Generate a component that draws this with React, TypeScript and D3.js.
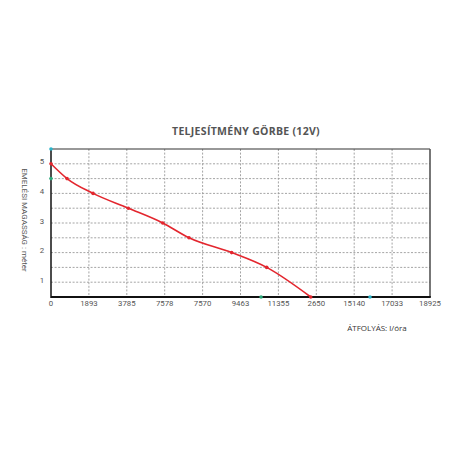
import * as d3 from "d3";

// pump curve (flow l/h, head m)
const flow = [0, 800, 2100, 3860, 5580, 6890, 9020, 10770, 12970];
const head = [5, 4.5, 4, 3.5, 3, 2.5, 2, 1.5, 0];

// tick labels exactly as printed (including the odd ones)
const xTickLabels = ["0", "1893", "3785", "7578", "7570", "9463", "11355", "2650", "15140", "17033", "18925"];
const yTickLabels = [1, 2, 3, 4, 5];

// small coloured markers sitting on the axes
const yAxisMarkHeads = [5.5, 4.5];
const yAxisMarkColors = ["#29b3c9", "#2aa87a"];
const xAxisMarkFlows = [10490, 15930];
const xAxisMarkColors = ["#2aa87a", "#29b3c9"];

const W = 456;
const H = 456;
const left = 51;
const right = 430;
const top = 149;
const bottom = 297;

export default function App() {
  const x = d3.scaleLinear().domain([0, 18925]).range([left, right]);
  const xCat = d3.scalePoint<string>().domain(xTickLabels).range([left, right]);
  const y = d3.scaleLinear().domain([0.5, 5.5]).range([bottom, top]).clamp(true);

  const gridY = y.ticks(10).filter((v) => v > 0.5 && v < 5.5);
  const gridX = xTickLabels.slice(1, -1);

  const pts = flow.map((f, i) => [f, head[i]] as [number, number]);
  const line = d3
    .line<[number, number]>()
    .x((d) => x(d[0]))
    .y((d) => y(d[1]))
    .curve(d3.curveMonotoneX);

  const tickFont = "Roboto, 'DejaVu Sans', sans-serif";

  return (
    <svg
      width={W}
      height={H}
      style={{ position: "absolute", left: 0, top: 0, background: "#fff" }}
    >
      <text
        x={246}
        y={135}
        textAnchor="middle"
        fontFamily="'Open Sans', sans-serif"
        fontWeight={700}
        fontSize={10.5}
        letterSpacing={0.3}
        fill="#555"
      >
        TELJESÍTMÉNY GÖRBE (12V)
      </text>

      {/* dotted grid */}
      {gridY.map((v) => (
        <line
          key={"gy" + v}
          x1={left}
          x2={right}
          y1={y(v)}
          y2={y(v)}
          stroke="#9a9a9a"
          strokeWidth={0.9}
          strokeDasharray="2,1.6"
        />
      ))}
      {gridX.map((l) => (
        <line
          key={"gx" + l}
          x1={xCat(l)}
          x2={xCat(l)}
          y1={top}
          y2={bottom}
          stroke="#9a9a9a"
          strokeWidth={0.9}
          strokeDasharray="2,1.6"
        />
      ))}

      {/* frame */}
      <line x1={left} x2={right} y1={top} y2={top} stroke="#333" strokeWidth={1.2} />
      <line x1={right} x2={right} y1={top} y2={bottom} stroke="#555" strokeWidth={1.6} />
      <line x1={left} x2={left} y1={top} y2={bottom + 1} stroke="#111" strokeWidth={1.5} />
      <line x1={left} x2={right + 0.8} y1={bottom} y2={bottom} stroke="#111" strokeWidth={2} />

      {/* curve */}
      <path d={line(pts) ?? ""} fill="none" stroke="#e3262e" strokeWidth={1.6} />
      {pts.map((d, i) => (
        <circle key={"p" + i} cx={x(d[0])} cy={y(d[1])} r={1.8} fill="#e3262e" />
      ))}

      {/* axis markers */}
      {yAxisMarkHeads.map((h, i) => (
        <circle key={"ym" + i} cx={left} cy={y(h)} r={1.8} fill={yAxisMarkColors[i]} />
      ))}
      {xAxisMarkFlows.map((f, i) => (
        <circle key={"xm" + i} cx={x(f)} cy={bottom} r={1.8} fill={xAxisMarkColors[i]} />
      ))}

      {/* tick labels */}
      {xTickLabels.map((l) => (
        <text
          key={"xl" + l}
          x={xCat(l)}
          y={306}
          textAnchor="middle"
          fontFamily={tickFont}
          fontSize={7.8}
          fill="#555"
        >
          {l}
        </text>
      ))}
      {yTickLabels.map((v) => (
        <text
          key={"yl" + v}
          x={42}
          y={y(v) + 0.5}
          textAnchor="middle"
          fontFamily={tickFont}
          fontSize={7.8}
          fill="#555"
        >
          {v}
        </text>
      ))}

      {/* axis titles */}
      <text
        transform={`translate(22,220) rotate(90)`}
        textAnchor="middle"
        fontFamily={tickFont}
        fontSize={8}
        fill="#555"
      >
        EMELÉSI MAGASSÁG : méter
      </text>
      <text
        x={377}
        y={331}
        textAnchor="middle"
        fontFamily="'Open Sans', sans-serif"
        fontSize={8}
        fill="#333"
      >
        ÁTFOLYÁS: l/óra
      </text>
    </svg>
  );
}
